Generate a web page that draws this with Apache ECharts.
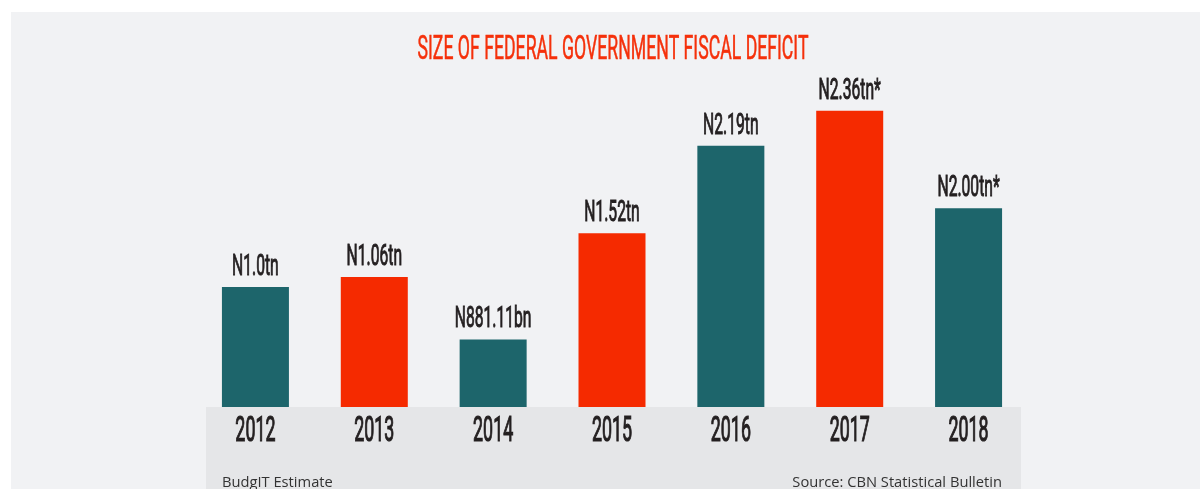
<!DOCTYPE html>
<html lang="en">
  <head>
    <meta charset="UTF-8" />
    <title>Size of Federal Government Fiscal Deficit</title>
    <style>
      body {
        margin: 0;
        background: #ffffff;
      }
      #main {
        width: 1200px;
        height: 489px;
      }
    </style>
  </head>
  <body>
    <div id="main"></div>
    <script src="https://cdn.jsdelivr.net/npm/echarts@6/dist/echarts.min.js"></script>
    <script>
      // years on the x axis
      const years = ["2012", "2013", "2014", "2015", "2016", "2017", "2018"];
      // bar heights as drawn in the picture (trillion naira)
      const barValues = [0.96, 1.04, 0.54, 1.39, 2.09, 2.37, 1.59];
      // labels printed over the bars
      const valueLabels = ["N1.0tn", "N1.06tn", "N881.11bn", "N1.52tn", "N2.19tn", "N2.36tn*", "N2.00tn*"];
      // which bars are red (true) or teal (false)
      const redBars = [false, true, false, true, false, true, false];

      const teal = "#1d656b";
      const red = "#f52a00";
      const ink = "#231f20";
      const condensed = "Roboto";

      const myChart = echarts.init(document.getElementById("main"));

      const option = {
        backgroundColor: "#ffffff",
        animation: false,
        graphic: [
          // light panel
          {
            type: "rect",
            z: -10,
            shape: { x: 11, y: 12, width: 1189, height: 477 },
            style: { fill: "#f1f2f4" },
          },
          // grey band under the bars
          {
            type: "rect",
            z: -9,
            shape: { x: 206, y: 407, width: 815, height: 82 },
            style: { fill: "#e5e6e8" },
          },
          {
            type: "text",
            x: 613,
            y: 67,
            scaleX: 0.52,
            style: {
              text: "SIZE OF FEDERAL GOVERNMENT FISCAL DEFICIT",
              font: "normal 34px " + condensed,
              fill: "#f5300a",
              stroke: "#f5300a",
              lineWidth: 0.6,
              align: "center",
              verticalAlign: "bottom",
            },
          },
          {
            type: "text",
            x: 222,
            y: 490,
            style: {
              text: "BudgIT Estimate",
              font: "14.7px 'Open Sans'",
              fill: "#333333",
              verticalAlign: "bottom",
            },
          },
          {
            type: "text",
            x: 1002,
            y: 490,
            style: {
              text: "Source: CBN Statistical Bulletin",
              font: "14.7px 'Open Sans'",
              fill: "#333333",
              align: "right",
              verticalAlign: "bottom",
            },
          },
        ],
        grid: {
          left: 196,
          right: 172,
          top: 32,
          bottom: 82,
        },
        xAxis: {
          type: "category",
          data: years,
          axisLine: { show: false },
          axisTick: { show: false },
          axisLabel: { show: false },
        },
        yAxis: {
          type: "value",
          min: 0,
          max: 3,
          show: false,
          splitLine: { show: false },
        },
        series: [
          {
            type: "bar",
            barWidth: 67,
            data: barValues.map((v, i) => ({
              value: v,
              itemStyle: { color: redBars[i] ? red : teal },
            })),
          },
          {
            // value labels above bars and year labels below them
            type: "custom",
            clip: false,
            data: barValues.map((v, i) => [i, v]),
            renderItem: function (params, api) {
              const top = api.coord([api.value(0), api.value(1)]);
              const base = api.coord([api.value(0), 0]);
              const i = params.dataIndex;
              return {
                type: "group",
                children: [
                  {
                    type: "text",
                    x: top[0],
                    y: top[1] - 5,
                    scaleX: 0.54,
                    style: {
                      text: valueLabels[i],
                      font: "normal 29px " + condensed,
                      fill: ink,
                      stroke: ink,
                      lineWidth: 1,
                      align: "center",
                      verticalAlign: "bottom",
                    },
                  },
                  {
                    type: "text",
                    x: base[0],
                    y: base[1] + 43,
                    scaleX: 0.51,
                    style: {
                      text: years[i],
                      font: "normal 35px " + condensed,
                      fill: ink,
                      stroke: ink,
                      lineWidth: 1.2,
                      align: "center",
                      verticalAlign: "bottom",
                    },
                  },
                ],
              };
            },
          },
        ],
      };

      myChart.setOption(option);
    </script>
  </body>
</html>
